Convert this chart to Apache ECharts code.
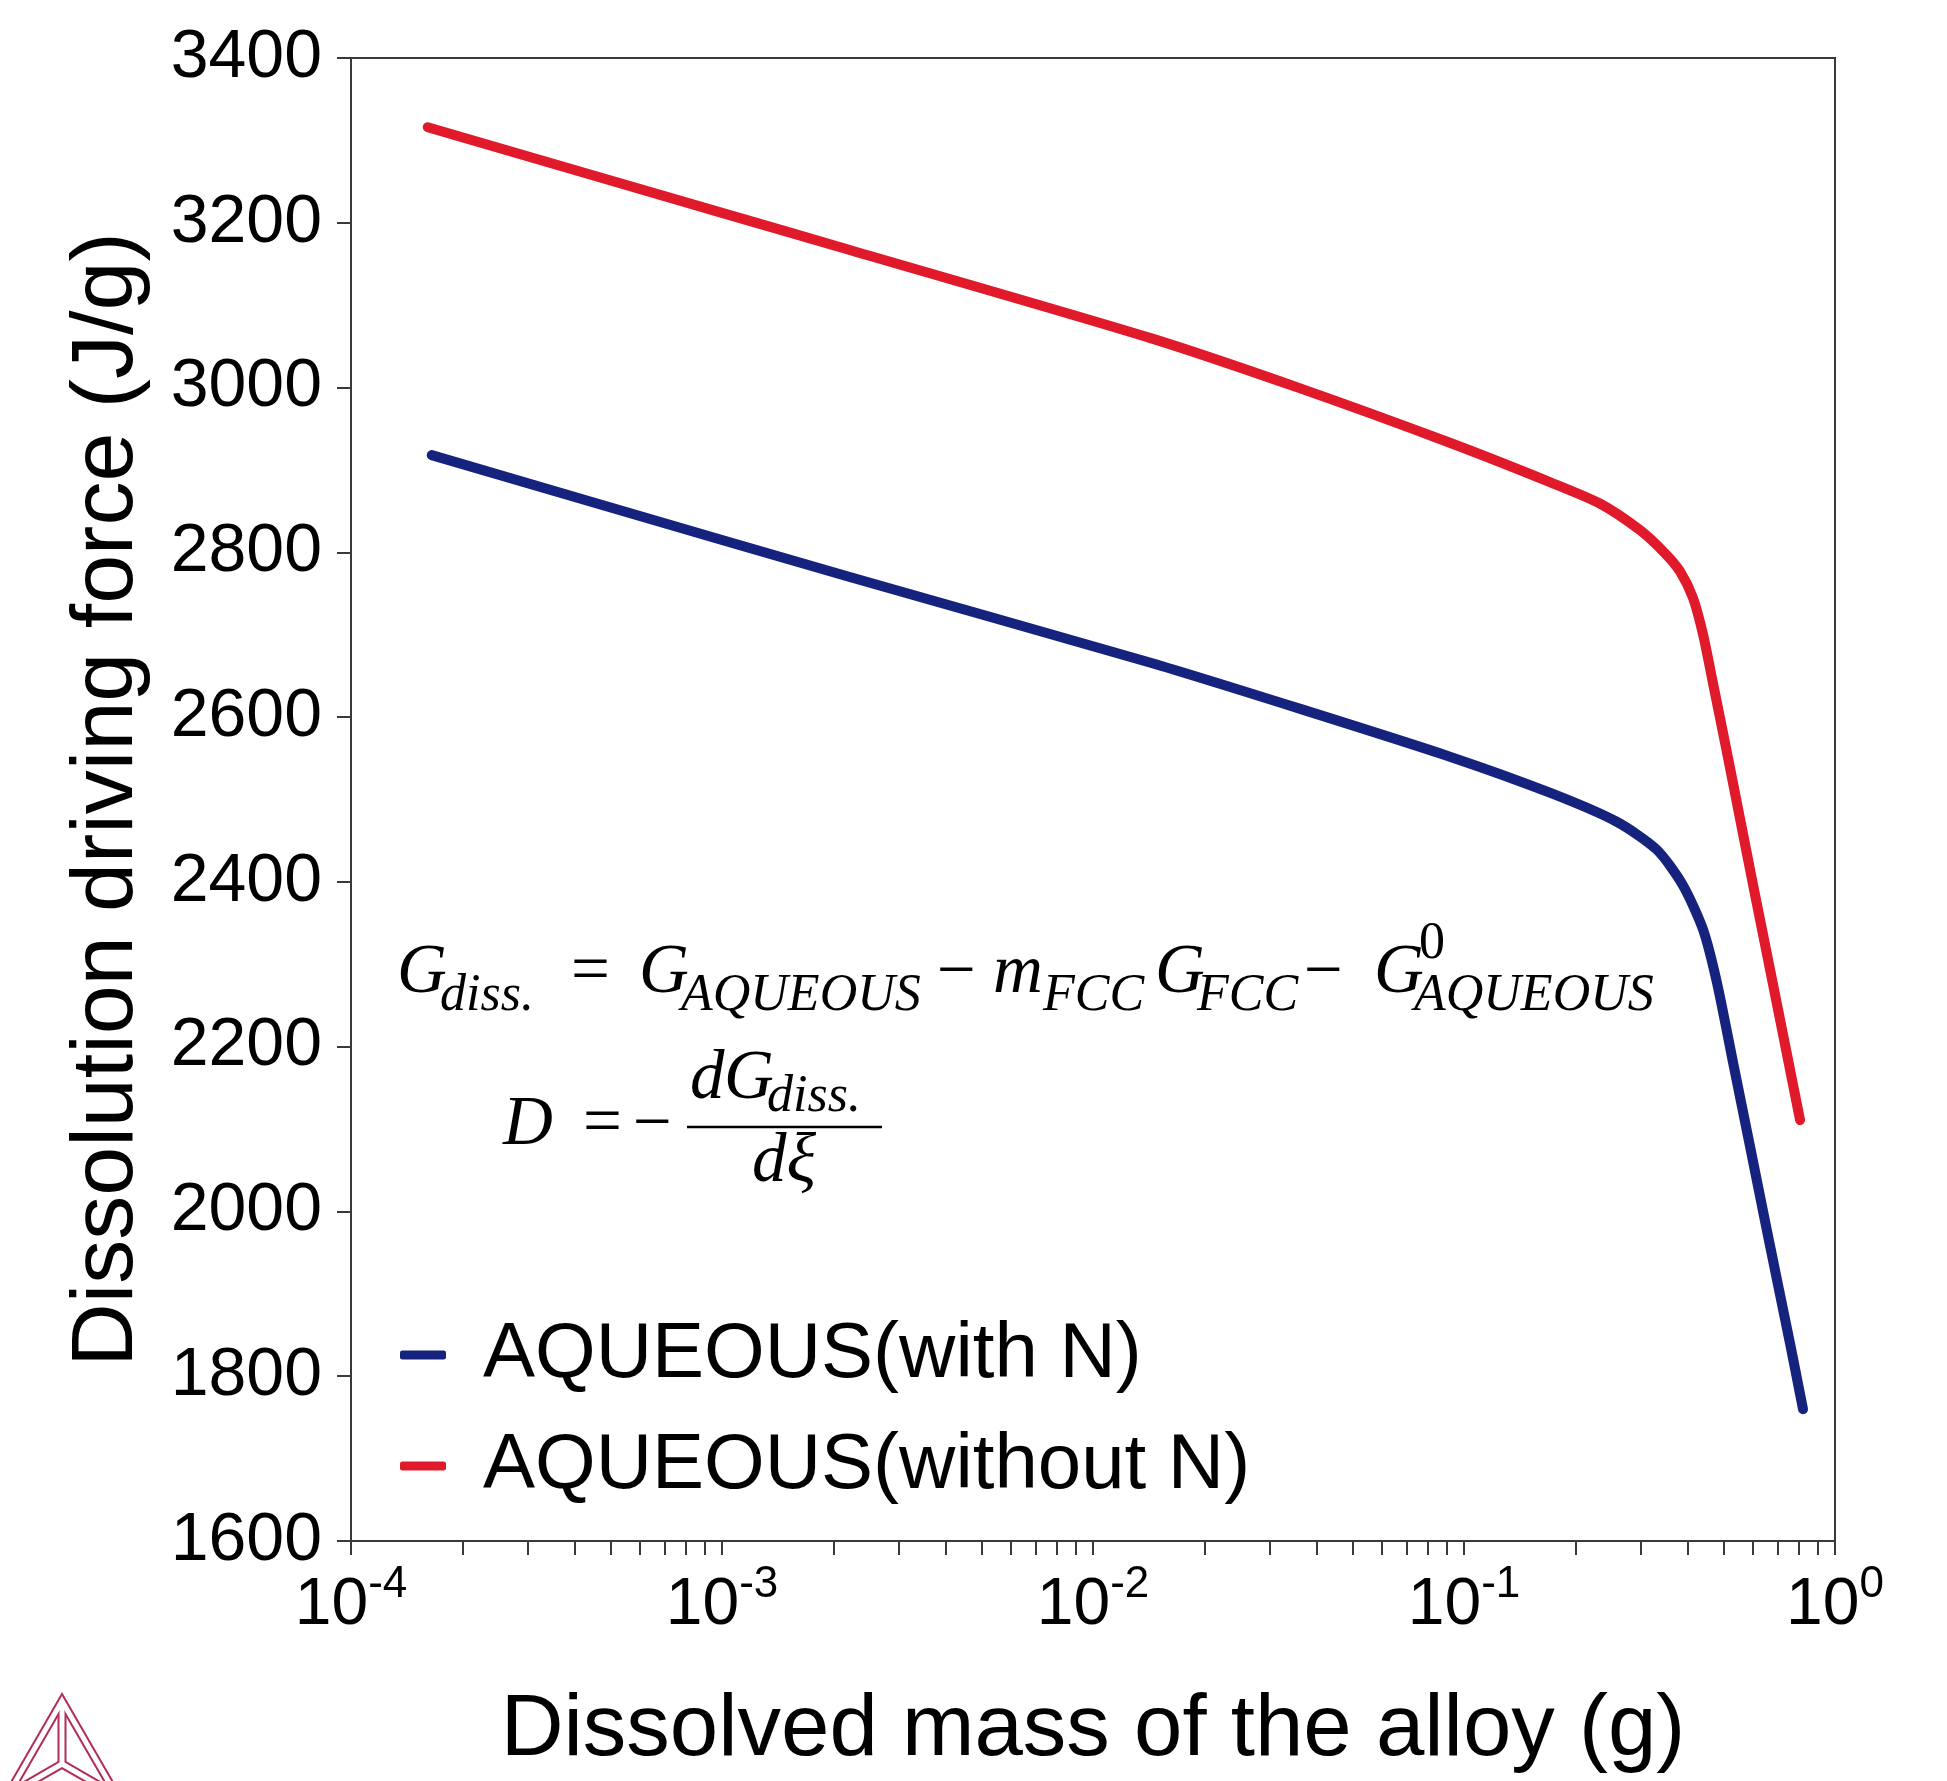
<!DOCTYPE html>
<html>
<head>
<meta charset="utf-8">
<style>
  html, body { margin: 0; padding: 0; background: #fff; }
  #chart { width: 1947px; height: 1781px; }
</style>
<script src="https://cdn.jsdelivr.net/npm/echarts@6/dist/echarts.min.js"></script>
</head>
<body>
<div id="chart"></div>
<script>
// values
const withNMass = [1.65e-4, 1e-3, 2.21e-3, 0.0143, 0.0362, 0.0916, 0.171, 0.258, 0.331, 0.389, 0.441, 0.481, 0.531, 0.59, 0.656, 0.757, 0.82]
const withNForce = [2918, 2815, 2770, 2666, 2610, 2552, 2508, 2473, 2439, 2396, 2342, 2277, 2181, 2079, 1976, 1839, 1760]

const withoutNMass = [1.61e-4, 1e-3, 2.21e-3, 0.0143, 0.0362, 0.0916, 0.171, 0.233, 0.298, 0.348, 0.382, 0.414, 0.441, 0.469, 0.512, 0.555, 0.601, 0.668, 0.805]
const withoutNForce = [3316, 3212, 3167, 3060, 2999, 2933, 2885, 2859, 2827, 2799, 2777, 2745, 2700, 2641, 2556, 2476, 2397, 2294, 2111]

const seriesNames = ['AQUEOUS(with N)', 'AQUEOUS(without N)']
const xTickExps = [-4, -3, -2, -1, 0]
const yMin = 1600
const yMax = 3400
const yStep = 200

const SANS = 'Liberation Sans, Arial, sans-serif'
const SERIF = 'Liberation Serif, Times New Roman, serif'
const AXIS = '#3a3a3a'
const LOGO = '#b22b5b'

const decades = xTickExps.map(e => Math.pow(10, e))
const tickVals = []
xTickExps.slice(0, -1).forEach(e => {
    for (let k = 1; k <= 9; k++) tickVals.push(k * Math.pow(10, e))
})
tickVals.push(decades[decades.length - 1])

const pairs = (xs, ys) => xs.map((x, i) => [x, ys[i]])

// formula text piece, placed by baseline
const mt = (str, x, base, size, italic) => ({
    type: 'text', x: x, y: base - 0.34 * size, silent: true, z: 100,
    style: {
        text: str, fontSize: size, fontFamily: SERIF,
        fontStyle: italic ? 'italic' : 'normal',
        fill: '#000', align: 'left', verticalAlign: 'middle'
    }
})

const M = 69, S = 52
const formula = [
    mt('G', 397, 997, M, true), mt('diss.', 440, 1014, S, true),
    mt('=', 571, 997, M, false),
    mt('G', 639, 997, M, true), mt('AQUEOUS', 681, 1014, S, true),
    mt('\u2212', 937, 997, M, false),
    mt('m', 993, 997, M, true), mt('FCC', 1043, 1014, S, true),
    mt('G', 1155, 997, M, true), mt('FCC', 1197, 1014, S, true),
    mt('\u2212', 1304, 997, M, false),
    mt('G', 1374, 997, M, true), mt('0', 1419, 962, S, false), mt('AQUEOUS', 1414, 1014, S, true),

    mt('D', 503, 1149, M, true),
    mt('=', 583, 1149, M, false),
    mt('\u2212', 633, 1149, M, false),
    mt('d', 690, 1103, M, true), mt('G', 724, 1103, M, true), mt('diss.', 767, 1115, S, true),
    mt('d\u03BE', 752, 1186, M, true),
    { type: 'line', silent: true, z: 100, shape: { x1: 687, y1: 1127, x2: 882, y2: 1127 }, style: { stroke: '#000', lineWidth: 2.5 } }
]

// small triangle logo, bottom left
const tri = [[62, 1701], [7.4, 1795.5], [116.6, 1795.5]]
const cen = [62, 1764]
const logoPart = (w, c) => [
    { type: 'polygon', silent: true, z: 90, shape: { points: tri }, style: { fill: 'none', stroke: c, lineWidth: w, lineJoin: 'miter' } },
    { type: 'polyline', silent: true, z: 90, shape: { points: [tri[0], cen] }, style: { fill: 'none', stroke: c, lineWidth: w } },
    { type: 'polyline', silent: true, z: 90, shape: { points: [tri[1], cen, tri[2]] }, style: { fill: 'none', stroke: c, lineWidth: w } }
]
const logo = logoPart(9, LOGO).concat(logoPart(5, '#fff'))

const chart = echarts.init(document.getElementById('chart'))

chart.setOption({
    backgroundColor: '#fff',
    animation: false,
    grid: {
        left: 351, right: 112, top: 58, bottom: 240,
        containLabel: false,
        show: true, borderColor: AXIS, borderWidth: 2
    },
    legend: {
        data: seriesNames,
        orient: 'vertical',
        left: 395,
        top: 1311,
        itemGap: 33,
        icon: 'roundRect',
        itemWidth: 46,
        itemHeight: 9,
        textStyle: {
            fontSize: 78, fontFamily: SANS, color: '#000',
            padding: [0, 0, 0, 32]
        }
    },
    xAxis: {
        type: 'log',
        logBase: 10,
        min: decades[0],
        max: decades[decades.length - 1],
        name: 'Dissolved mass of the alloy (g)',
        nameLocation: 'middle',
        nameGap: 147,
        nameTextStyle: { fontSize: 87, fontFamily: SANS, color: '#000' },
        axisLine: { show: true, lineStyle: { color: AXIS, width: 2 } },
        axisTick: {
            show: true, inside: false, length: 14,
            customValues: tickVals,
            lineStyle: { color: AXIS, width: 2 }
        },
        minorTick: { show: false },
        splitLine: { show: false },
        axisLabel: {
            customValues: decades,
            margin: 22,
            formatter: v => '{b|10}{s|' + Math.round(Math.log10(v)) + '}',
            rich: {
                b: { fontSize: 66, fontFamily: SANS, color: '#000', lineHeight: 70, padding: [16, 0, 0, 0] },
                s: { fontSize: 44, fontFamily: SANS, color: '#000', lineHeight: 44, verticalAlign: 'top' }
            }
        }
    },
    yAxis: {
        type: 'value',
        min: yMin,
        max: yMax,
        interval: yStep,
        name: 'Dissolution driving force (J/g)',
        nameLocation: 'middle',
        nameGap: 199,
        nameTextStyle: { fontSize: 88, fontFamily: SANS, color: '#000' },
        axisLine: { show: true, lineStyle: { color: AXIS, width: 2 } },
        axisTick: { show: true, inside: false, length: 14, lineStyle: { color: AXIS, width: 2 } },
        splitLine: { show: false },
        axisLabel: {
            fontSize: 68, fontFamily: SANS, color: '#000', margin: 29,
            formatter: v => String(v)
        }
    },
    series: [
        {
            name: seriesNames[0],
            type: 'line',
            data: pairs(withNMass, withNForce),
            showSymbol: false,
            symbol: 'none',
            smooth: 0.25,
            color: '#15237f',
            lineStyle: { width: 10, color: '#15237f', cap: 'round', join: 'round' }
        },
        {
            name: seriesNames[1],
            type: 'line',
            data: pairs(withoutNMass, withoutNForce),
            showSymbol: false,
            symbol: 'none',
            smooth: 0.25,
            color: '#e01a2b',
            lineStyle: { width: 10, color: '#e01a2b', cap: 'round', join: 'round' }
        }
    ],
    graphic: formula.concat(logo)
})
</script>
</body>
</html>
